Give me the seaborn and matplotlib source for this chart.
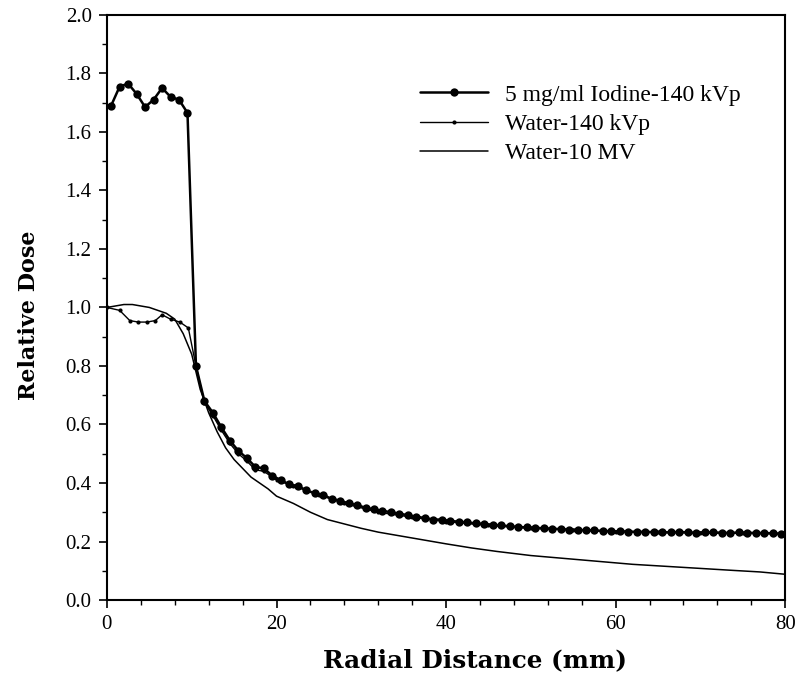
# dose_profile.py
# 径向剂量分布曲线：碘溶液 140 kVp / 水 140 kVp / 水 10 MV

import numpy as np
import pandas as pd
import matplotlib
matplotlib.use('Agg')
import matplotlib.pyplot as plt
from matplotlib.ticker import MultipleLocator
import seaborn as sns

# ---- 数据 ----
iodine_x = [0.5 + i for i in range(80)]
iodine_dose = [1.69, 1.755, 1.765, 1.73, 1.685, 1.71, 1.75, 1.72, 1.71, 1.665,
               0.80, 0.68, 0.64, 0.59, 0.545, 0.51, 0.485, 0.455, 0.45, 0.425,
               0.41, 0.395, 0.39, 0.375, 0.365, 0.36, 0.345, 0.34, 0.33, 0.325,
               0.315, 0.31, 0.305, 0.30, 0.295, 0.29, 0.285, 0.28, 0.275, 0.275,
               0.27, 0.268, 0.265, 0.262, 0.26, 0.257, 0.255, 0.252, 0.25, 0.248,
               0.247, 0.245, 0.244, 0.242, 0.241, 0.24, 0.238, 0.238, 0.236, 0.235,
               0.235, 0.234, 0.233, 0.233, 0.232, 0.232, 0.231, 0.233, 0.231, 0.230,
               0.232, 0.231, 0.230, 0.229, 0.231, 0.230, 0.229, 0.229, 0.228, 0.227]

water140_x = [0.0, 1.5, 2.7, 3.7, 4.7, 5.7, 6.5, 7.5, 8.6, 9.6, 10.5,
              11.5, 12.5, 13.5, 14.5, 15.5, 16.5, 17.5, 18.5, 20.0, 22.0,
              25.0, 28.0, 32.0, 36.0, 40.0, 45.0, 50.0, 55.0, 60.0, 65.0,
              70.0, 75.0, 80.0]
water140_dose = [1.00, 0.99, 0.955, 0.95, 0.95, 0.955, 0.975, 0.96, 0.95, 0.93, 0.80,
                 0.675, 0.63, 0.58, 0.535, 0.50, 0.475, 0.445, 0.44, 0.41, 0.39,
                 0.36, 0.33, 0.30, 0.283, 0.268, 0.255, 0.245, 0.24, 0.233, 0.231,
                 0.229, 0.228, 0.226]

mv10_x = [0, 1, 2, 3, 4, 5, 6, 7, 8, 9, 10, 11, 12, 13, 14, 15, 16, 17, 18, 19,
          20, 22, 24, 26, 28, 30, 32, 34, 36, 38, 40, 43, 46, 50, 54, 58, 62, 66,
          70, 74, 77, 80]
mv10_dose = [1.00, 1.005, 1.01, 1.01, 1.005, 1.0, 0.99, 0.98, 0.96, 0.91, 0.84,
             0.72, 0.64, 0.575, 0.52, 0.48, 0.45, 0.42, 0.40, 0.38, 0.355, 0.33,
             0.30, 0.275, 0.26, 0.245, 0.232, 0.222, 0.212, 0.202, 0.192, 0.178,
             0.166, 0.152, 0.142, 0.132, 0.122, 0.115, 0.108, 0.101, 0.096, 0.088]

labels = ['5 mg/ml Iodine-140 kVp', 'Water-140 kVp', 'Water-10 MV']

# ---- 样式 ----
sns.set_style('ticks')
plt.rcParams['font.family'] = ['Liberation Serif', 'DejaVu Serif']
plt.rcParams['text.color'] = 'black'
plt.rcParams['axes.labelcolor'] = 'black'

fig = plt.figure(figsize=(7.98, 6.76), dpi=100)
ax = fig.add_axes([0.134, 0.1124, 0.850, 0.8656])

# 碘溶液 140 kVp
sns.lineplot(x=iodine_x, y=iodine_dose, ax=ax, color='black', linewidth=1.8,
             marker='o', markersize=6, markeredgewidth=0, label=labels[0])
# 水 140 kVp
sns.lineplot(x=water140_x, y=water140_dose, ax=ax, color='black', linewidth=1.0,
             marker='o', markersize=3, markeredgewidth=0, label=labels[1])
# 水 10 MV
sns.lineplot(x=mv10_x, y=mv10_dose, ax=ax, color='black', linewidth=1.1,
             label=labels[2])

ax.set_xlim(0, 80)
ax.set_ylim(0, 2.0)
ax.xaxis.set_major_locator(MultipleLocator(20))
ax.xaxis.set_minor_locator(MultipleLocator(4))
ax.yaxis.set_major_locator(MultipleLocator(0.2))
ax.yaxis.set_minor_locator(MultipleLocator(0.1))
ax.yaxis.set_major_formatter(plt.FormatStrFormatter('%.1f'))

ax.tick_params(which='major', direction='out', length=6, width=1.2,
               labelsize=15, colors='black', pad=5)
ax.tick_params(which='minor', direction='out', length=3.5, width=1.0, colors='black')

for sp in ax.spines.values():
    sp.set_visible(True)
    sp.set_linewidth(1.5)
    sp.set_color('black')

ax.set_xlabel('Radial Distance (mm)', fontsize=17.8, fontweight='bold',
              family=['DejaVu Serif'])
ax.set_ylabel('Relative Dose', fontsize=16, fontweight='bold',
              family=['DejaVu Serif'])
ax.xaxis.set_label_coords(0.543, -0.083)
ax.yaxis.set_label_coords(-0.099, 0.487)

leg = ax.legend(loc='upper left', bbox_to_anchor=(0.448, 0.898), frameon=False,
                fontsize=17, handlelength=2.85, handletextpad=0.76,
                labelspacing=0.33, numpoints=1, borderaxespad=0)

fig.savefig('out.png', dpi=100, facecolor='white')
